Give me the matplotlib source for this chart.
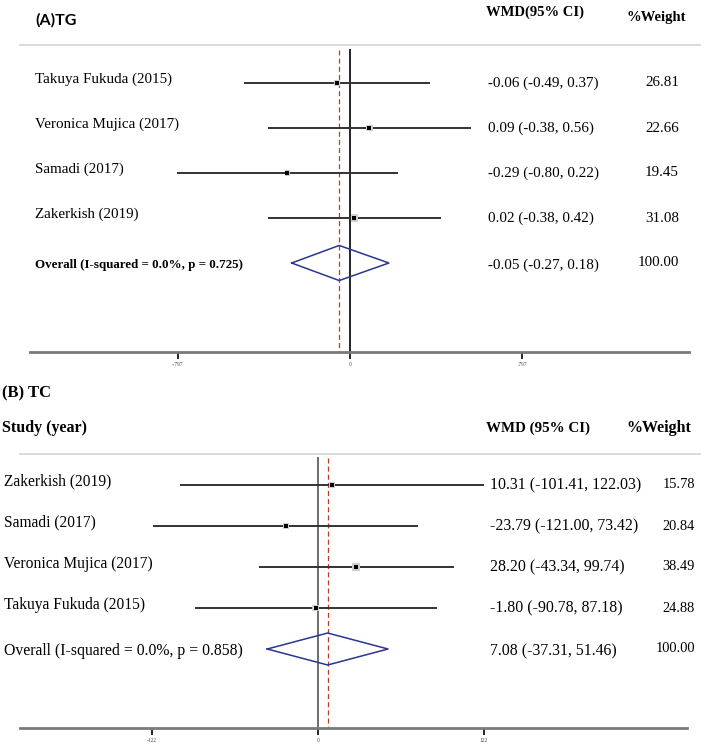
import matplotlib.pyplot as plt
import numpy as np

plt.rcParams['font.family'] = ['Liberation Serif', 'DejaVu Serif']

# (A) TG
tg_studies = ['Takuya Fukuda (2015)', 'Veronica Mujica (2017)', 'Samadi (2017)', 'Zakerkish (2019)']
tg_wmd = [-0.06, 0.09, -0.29, 0.02]
tg_lo = [-0.49, -0.38, -0.80, -0.38]
tg_hi = [0.37, 0.56, 0.22, 0.42]
tg_weight = [26.81, 22.66, 19.45, 31.08]
tg_overall = [-0.05, -0.27, 0.18]
tg_overall_label = 'Overall (I-squared = 0.0%, p = 0.725)'
tg_ticks = [-0.797, 0, 0.797]
tg_ticklabels = ['-.797', '0', '.797']

# (B) TC
tc_studies = ['Zakerkish (2019)', 'Samadi (2017)', 'Veronica Mujica (2017)', 'Takuya Fukuda (2015)']
tc_wmd = [10.31, -23.79, 28.20, -1.80]
tc_lo = [-101.41, -121.00, -43.34, -90.78]
tc_hi = [122.03, 73.42, 99.74, 87.18]
tc_weight = [15.78, 20.84, 38.49, 24.88]
tc_overall = [7.08, -37.31, 51.46]
tc_overall_label = 'Overall (I-squared = 0.0%, p = 0.858)'
tc_ticks = [-122.03, 0, 122.03]
tc_ticklabels = ['-122', '0', '122']

W, H = 704, 746
fig = plt.figure(figsize=(W / 100, H / 100), dpi=100)


def fx(px):
    return px / W


def fy(py):
    return 1 - py / H


def panel(rect_px, zero_px, px_per_unit, row0_px, row_step, line_top_px,
          studies, wmd, lo, hi, weight, overall, overall_label, overall_bold,
          ticks, ticklabels, bounds, vline_color, sizes, cols):
    top_px, bottom_px = rect_px
    label_x, val_x, wt_x = cols
    ax = fig.add_axes([0, fy(bottom_px), 1, (bottom_px - top_px) / H])
    ax.set_xlim(-zero_px / px_per_unit, (W - zero_px) / px_per_unit)
    ax.set_ylim((bottom_px - row0_px) / row_step, (top_px - row0_px) / row_step)
    for s in ['top', 'left', 'right']:
        ax.spines[s].set_visible(False)
    ax.spines['bottom'].set_bounds(*bounds)
    ax.spines['bottom'].set_color('#7a7a7a')
    ax.spines['bottom'].set_linewidth(2.0)
    ax.set_yticks([])
    ax.set_xticks(ticks, ticklabels)
    ax.tick_params(axis='x', length=5, width=1.2, color='black', labelsize=4,
                   pad=2.5, labelcolor='#444444')

    rows = np.arange(len(studies))
    yb = (bottom_px - row0_px) / row_step
    yline = (line_top_px - row0_px) / row_step
    # light rule under the header and the no-effect / pooled-effect lines
    ax.axhline(yline - 0.08, xmin=fx(20), xmax=fx(700), color='#d9d9d9', lw=1.4)
    ax.vlines(0, yline, yb, color=vline_color, lw=1.2)
    ax.vlines(overall[0], yline + 0.02, yb, color='#c0392b', lw=0.9, linestyles=(0, (4, 2.5)))

    ax.hlines(rows, lo, hi, color='#333333', lw=1.4)
    box = [(8 * np.sqrt(w / 38.49) * 0.72) ** 2 for w in weight]
    ax.scatter(wmd, rows, marker='s', s=box, color='#cfcfcf', zorder=3, linewidths=0)
    ax.scatter(wmd, rows, marker='s', s=2.7 ** 2, color='black', zorder=4, linewidths=0)

    orow = len(studies)
    h = 0.39
    ax.plot([overall[1], overall[0], overall[2], overall[0], overall[1]],
            [orow, orow - h, orow, orow + h, orow], color='#2a3590', lw=1.1)

    tr = ax.get_yaxis_transform()
    lab_fs, val_fs, wt_fs, ov_fs = sizes
    for i, name in enumerate(studies):
        ax.text(fx(label_x), i - 0.08, name, transform=tr, fontsize=lab_fs, va='center', ha='left')
        ax.text(fx(val_x), i, '%.2f (%.2f, %.2f)' % (wmd[i], lo[i], hi[i]),
                transform=tr, fontsize=val_fs, va='center', ha='left')
        ax.text(fx(wt_x), i, '%.2f' % weight[i], transform=tr, fontsize=wt_fs,
                va='center', ha='right')
    ax.text(fx(label_x), orow + 0.05, overall_label, transform=tr, fontsize=ov_fs,
            fontweight='bold' if overall_bold else 'normal', va='center', ha='left')
    ax.text(fx(val_x), orow + 0.05, '%.2f (%.2f, %.2f)' % tuple(overall),
            transform=tr, fontsize=val_fs, va='center', ha='left')
    ax.text(fx(wt_x), orow, '100.00', transform=tr, fontsize=wt_fs, va='center', ha='right')
    return ax


# panel A
panel((0, 352), 350, 216, 83, 45, 49,
      tg_studies, tg_wmd, tg_lo, tg_hi, tg_weight, tg_overall, tg_overall_label, True,
      tg_ticks, tg_ticklabels, (-1.48, 1.57), 'black', (10.8, 10.9, 10.8, 9.4),
      (35, 488, 679))
fig.text(fx(35), fy(20), '(A)TG', family='Lato', fontweight='bold', fontsize=11.5, va='center')
fig.text(fx(486), fy(12), 'WMD(95% CI)', fontweight='bold', fontsize=10.5, va='center')
fig.text(fx(626), fy(17), '%Weight', fontweight='bold', fontsize=10.5, va='center')

# panel B
panel((380, 728), 318, 166 / 122.03, 485, 41, 457,
      tc_studies, tc_wmd, tc_lo, tc_hi, tc_weight, tc_overall, tc_overall_label, False,
      tc_ticks, tc_ticklabels, (-219, 271), '#555555', (11.2, 11.4, 10.4, 11.3),
      (4, 490, 695))
fig.text(fx(2), fy(393), '(B) TC', fontweight='bold', fontsize=12, va='center')
fig.text(fx(2), fy(428), 'Study (year)', fontweight='bold', fontsize=11.5, va='center')
fig.text(fx(486), fy(428), 'WMD (95% CI)', fontweight='bold', fontsize=10.8, va='center')
fig.text(fx(626), fy(428), '%Weight', fontweight='bold', fontsize=11.5, va='center')

fig.savefig('out.png', dpi=100)
